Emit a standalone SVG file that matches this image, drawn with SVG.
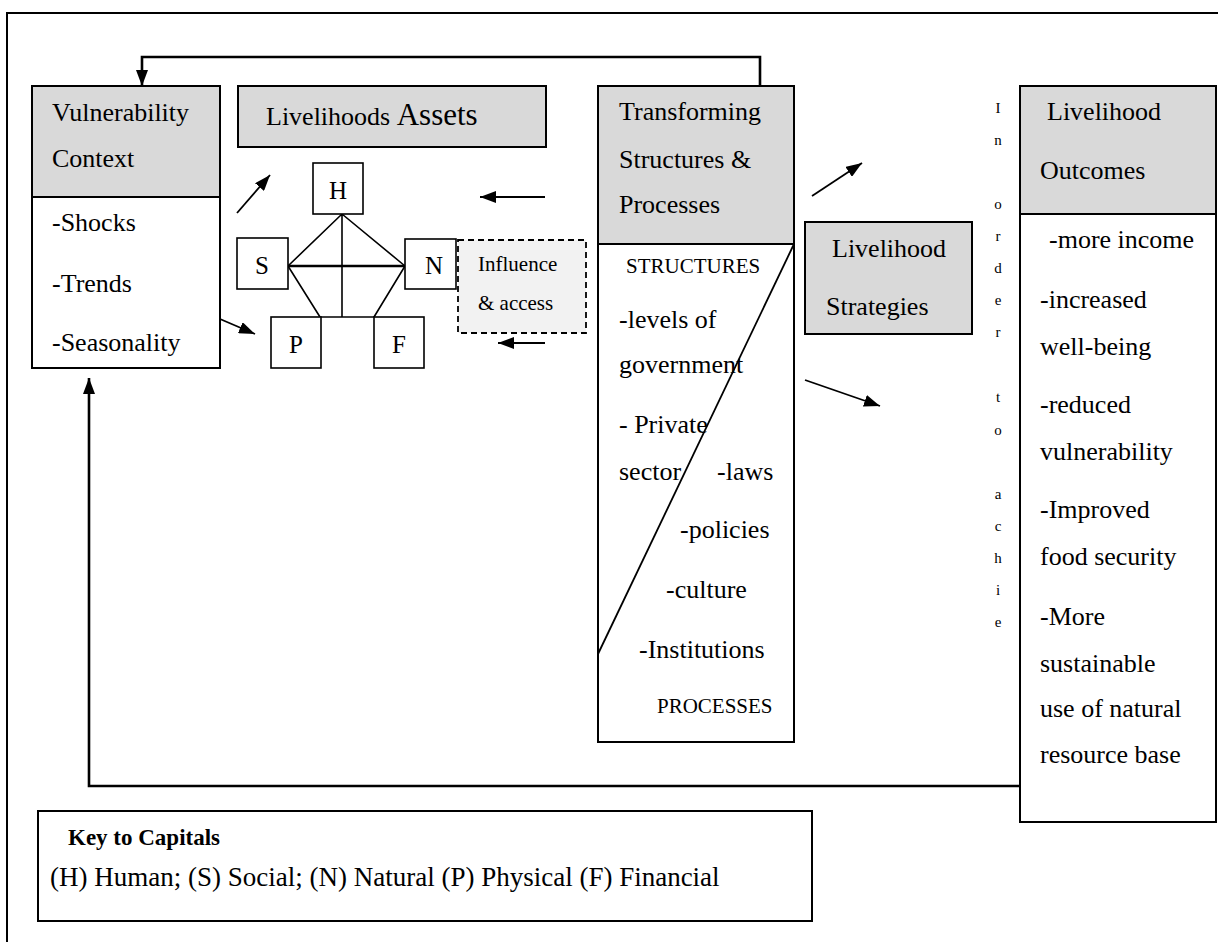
<svg xmlns="http://www.w3.org/2000/svg" width="1218" height="942" viewBox="0 0 1218 942">
  <defs>
    <marker id="head" viewBox="0 0 16 12" refX="16" refY="6" markerWidth="16" markerHeight="12" markerUnits="userSpaceOnUse" orient="auto">
      <path d="M0,0 L16,6 L0,12 z" fill="#000"/>
    </marker>
    <style>
      text { font-family: "Liberation Serif", "Times New Roman", serif; fill: #000; }
      .t26 { font-size: 26px; }
      .t21 { font-size: 21px; }
      .t25 { font-size: 25px; }
      .vert { font-size: 15px; text-anchor: middle; }
      .box { fill: #fff; stroke: #000; stroke-width: 2; }
      .head { fill: #d9d9d9; stroke: #000; stroke-width: 2; }
      .cap { fill: #fff; stroke: #000; stroke-width: 1.6; }
      .edge { fill: none; stroke: #000; stroke-width: 1.6; }
      .conn { fill: none; stroke: #000; stroke-width: 1.8; }
      .loop { fill: none; stroke: #000; stroke-width: 2.6; }
    </style>
  </defs>

  <rect x="0" y="0" width="1218" height="942" fill="#fff"/>
  <!-- outer frame, running off the right and bottom edges -->
  <rect x="7" y="13" width="1240" height="960" fill="none" stroke="#000" stroke-width="2"/>

  <!-- Vulnerability context -->
  <g id="vulnerability">
    <rect class="box" x="32" y="86" width="188" height="282"/>
    <rect class="head" x="32" y="86" width="188" height="111"/>
    <text class="t26" x="52" y="121">Vulnerability</text>
    <text class="t26" x="52" y="167">Context</text>
    <text class="t26" x="52" y="231">-Shocks</text>
    <text class="t26" x="52" y="292">-Trends</text>
    <text class="t26" x="52" y="351">-Seasonality</text>
  </g>

  <!-- Livelihoods assets title -->
  <g id="assets">
    <rect class="head" x="238" y="86" width="308" height="61"/>
    <text class="t26" x="266" y="125">Livelihoods <tspan font-size="31">Assets</tspan></text>
  </g>

  <!-- Asset pentagon -->
  <g id="pentagon">
    <path class="edge" d="M342,214 L288,266 M342,214 L405,266 M342,214 L342,317 M288,266 L320,317 M405,266 L374,317 M320,317 L374,317"/>
    <path d="M288,266 L405,266" fill="none" stroke="#000" stroke-width="2.6"/>
  </g>
  <g id="capital-h">
    <rect class="cap" x="313" y="163" width="50" height="51"/>
    <text class="t25" x="338" y="199" text-anchor="middle">H</text>
  </g>
  <g id="capital-s">
    <rect class="cap" x="237" y="238" width="51" height="51"/>
    <text class="t25" x="262" y="274" text-anchor="middle">S</text>
  </g>
  <g id="capital-n">
    <rect class="cap" x="405" y="239" width="51" height="50"/>
    <text class="t25" x="434" y="274" text-anchor="middle">N</text>
  </g>
  <g id="capital-p">
    <rect class="cap" x="271" y="317" width="50" height="51"/>
    <text class="t25" x="296" y="353" text-anchor="middle">P</text>
  </g>
  <g id="capital-f">
    <rect class="cap" x="374" y="317" width="50" height="51"/>
    <text class="t25" x="399" y="353" text-anchor="middle">F</text>
  </g>

  <!-- Influence & access -->
  <g id="influence">
    <rect x="458" y="240" width="128" height="93" fill="#f2f2f2" stroke="#000" stroke-width="1.8" stroke-dasharray="6,4"/>
    <text class="t21" x="478" y="271">Influence</text>
    <text class="t21" x="478" y="310">&amp; access</text>
  </g>

  <!-- Transforming structures & processes -->
  <g id="transforming">
    <rect class="box" x="598" y="86" width="196" height="656"/>
    <rect class="head" x="598" y="86" width="196" height="158"/>
    <line x1="794" y1="244" x2="598" y2="654" stroke="#000" stroke-width="1.8"/>
    <text class="t26" x="619" y="120">Transforming</text>
    <text class="t26" x="619" y="168">Structures &amp;</text>
    <text class="t26" x="619" y="213">Processes</text>
    <text class="t21" x="626" y="273">STRUCTURES</text>
    <text class="t26" x="619" y="328">-levels of</text>
    <text class="t26" x="619" y="373">government</text>
    <text class="t26" x="619" y="433">- Private</text>
    <text class="t26" x="619" y="480">sector</text>
    <text class="t26" x="717" y="480">-laws</text>
    <text class="t26" x="680" y="538">-policies</text>
    <text class="t26" x="666" y="598">-culture</text>
    <text class="t26" x="639" y="658">-Institutions</text>
    <text class="t21" x="657" y="713">PROCESSES</text>
  </g>

  <!-- Livelihood strategies -->
  <g id="strategies">
    <rect class="head" x="805" y="222" width="167" height="112"/>
    <text class="t26" x="832" y="257">Livelihood</text>
    <text class="t26" x="826" y="315">Strategies</text>
  </g>

  <!-- Vertical caption -->
  <g id="caption">
    <text class="vert" x="998" y="113">I</text>
    <text class="vert" x="998" y="145">n</text>
    <text class="vert" x="998" y="209">o</text>
    <text class="vert" x="998" y="241">r</text>
    <text class="vert" x="998" y="273">d</text>
    <text class="vert" x="998" y="305">e</text>
    <text class="vert" x="998" y="337">r</text>
    <text class="vert" x="998" y="402">t</text>
    <text class="vert" x="998" y="435">o</text>
    <text class="vert" x="998" y="499">a</text>
    <text class="vert" x="998" y="531">c</text>
    <text class="vert" x="998" y="563">h</text>
    <text class="vert" x="998" y="595">i</text>
    <text class="vert" x="998" y="627">e</text>
  </g>

  <!-- Livelihood outcomes -->
  <g id="outcomes">
    <rect class="box" x="1020" y="86" width="196" height="736"/>
    <rect class="head" x="1020" y="86" width="196" height="128"/>
    <text class="t26" x="1047" y="120">Livelihood</text>
    <text class="t26" x="1040" y="179">Outcomes</text>
    <text class="t26" x="1049" y="248">-more income</text>
    <text class="t26" x="1040" y="308">-increased</text>
    <text class="t26" x="1040" y="355">well-being</text>
    <text class="t26" x="1040" y="413">-reduced</text>
    <text class="t26" x="1040" y="460">vulnerability</text>
    <text class="t26" x="1040" y="518">-Improved</text>
    <text class="t26" x="1040" y="565">food security</text>
    <text class="t26" x="1040" y="625">-More</text>
    <text class="t26" x="1040" y="672">sustainable</text>
    <text class="t26" x="1040" y="717">use of natural</text>
    <text class="t26" x="1040" y="763">resource base</text>
  </g>

  <!-- Key -->
  <g id="key">
    <rect class="box" x="38" y="811" width="774" height="110"/>
    <text x="68" y="845" font-size="23" font-weight="bold">Key to Capitals</text>
    <text x="50" y="886" font-size="27">(H) Human; (S) Social; (N) Natural (P) Physical (F) Financial</text>
  </g>

  <!-- Connectors -->
  <g id="connectors">
    <path class="loop" d="M760,86 L760,57 L142,57 L142,86" marker-end="url(#head)"/>
    <path class="loop" d="M1020,786 L89,786 L89,378" marker-end="url(#head)"/>
    <line class="conn" x1="237" y1="213" x2="270" y2="175" marker-end="url(#head)"/>
    <line class="conn" x1="220" y1="319" x2="255" y2="334" marker-end="url(#head)"/>
    <line class="conn" x1="545" y1="197" x2="480" y2="197" marker-end="url(#head)"/>
    <line class="conn" x1="545" y1="343" x2="498" y2="343" marker-end="url(#head)"/>
    <line class="conn" x1="812" y1="196" x2="862" y2="163" marker-end="url(#head)"/>
    <line class="conn" x1="805" y1="380" x2="880" y2="406" marker-end="url(#head)"/>
  </g>
</svg>
